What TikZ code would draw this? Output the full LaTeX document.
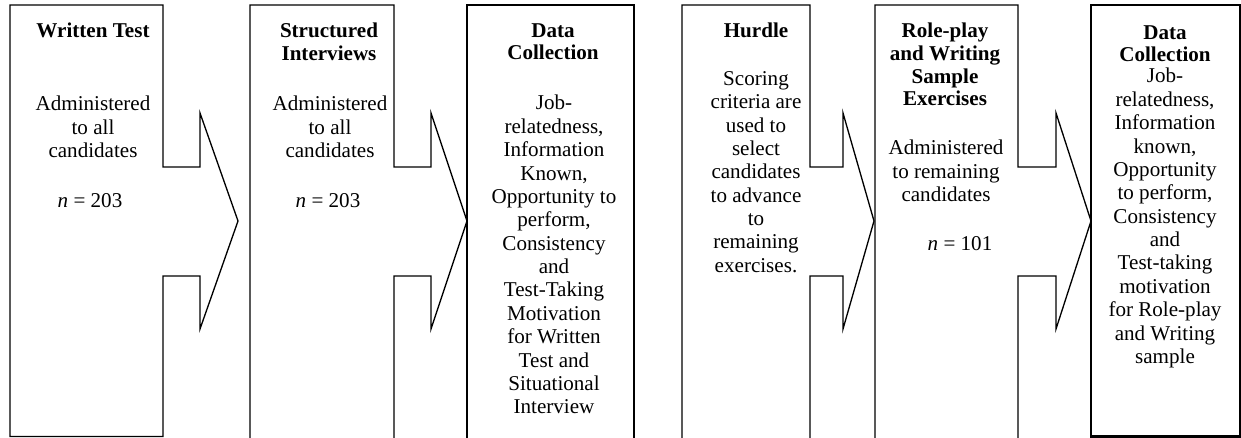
\documentclass[tikz,border=0pt]{standalone}
\usepackage{fontspec}
\setmainfont{Liberation Serif}
\tikzset{
	stageline/.style={draw=black, line width=0.75pt, line join=miter},
	stagehead/.style={align=center, inner sep=0pt, anchor=north, font=\fontsize{12}{12.9}\selectfont\bfseries},
	stagetext/.style={align=center, inner sep=0pt, anchor=north, font=\fontsize{12}{13.3}\selectfont},
}
% arrow callout: left, right, neck, tip, bottom
\newcommand{\arrowstage}[5]{
	\draw[stageline] (#1,5) -- (#2,5) -- (#2,167) -- (#3,167) -- (#3,113) -- (#4,221)
	-- (#3,329) -- (#3,276) -- (#2,276) -- (#2,#5) -- (#1,#5) -- cycle;}

\begin{document}
\begin{tikzpicture}[x=0.02cm, y=-0.02cm]
	\useasboundingbox (0,0) rectangle (1241,438);
	
	% Written test
	\arrowstage{10}{163}{200}{238}{436.5}
	\node[stagehead] (head1) at (93,23) {Written Test};
	\node[stagetext] (text1) at (93,96) {Administered\\to all\\candidates};
	\node[stagetext] (n1) at (90,193) {\textit{n} = 203};
	
	% Structured interviews
	\arrowstage{250}{394}{431}{467}{440}
	\node[stagehead] (head2) at (329,23) {Structured\\Interviews};
	\node[stagetext] (text2) at (330,96) {Administered\\to all\\candidates};
	\node[stagetext] (n2) at (328,193) {\textit{n} = 203};
	
	% Data collection 1
	\draw[stageline] (467,5) rectangle (634,440);
	\node[stagehead] (head3) at (553,23) {Data\\Collection};
	\node[stagetext] (text3) at (554,95) {Job-\\relatedness,\\Information\\Known,\\Opportunity to\\perform,\\Consistency\\and\\Test-Taking\\Motivation\\for Written\\Test and\\Situational\\Interview};
	
	% Hurdle
	\arrowstage{682}{810}{843}{874}{440}
	\node[stagehead] (head4) at (756,23) {Hurdle};
	\node[stagetext] (text4) at (756,71) {Scoring\\criteria are\\used to\\select\\candidates\\to advance\\to\\remaining\\exercises.};
	
	% Role-play and writing sample
	\arrowstage{875}{1018}{1056}{1091}{440}
	\node[stagehead] (head5) at (945,23) {Role-play\\and Writing\\Sample\\Exercises};
	\node[stagetext] (text5) at (946,140) {Administered\\to remaining\\candidates};
	\node[stagetext] (n5) at (960,236) {\textit{n} = 101};
	
	% Data collection 2
	\draw[stageline, line width=1.2pt] (1091,5) rectangle (1240,436.5);
	\node[stagehead] (head6) at (1165,25) {Data\\Collection};
	\node[stagetext] (text6) at (1165,68) {Job-\\relatedness,\\Information\\known,\\Opportunity\\to perform,\\Consistency\\and\\Test-taking\\motivation\\for Role-play\\and Writing\\sample};
	
\end{tikzpicture}
\end{document}
